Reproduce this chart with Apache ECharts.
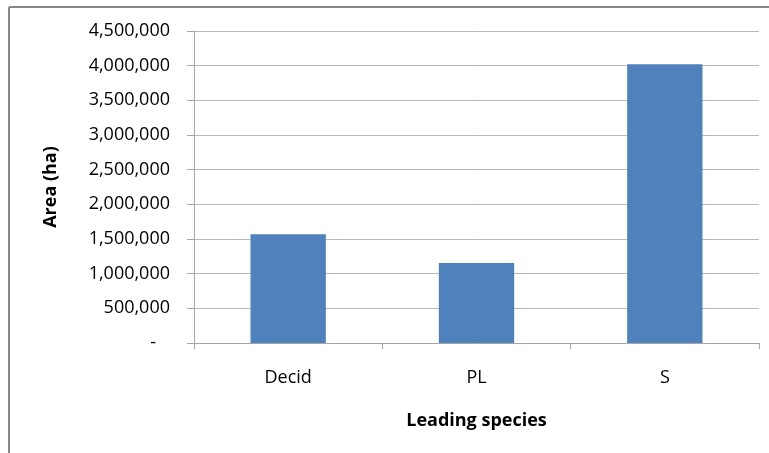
<!DOCTYPE html>
<html>
<head>
<meta charset="utf-8">
<script src="https://cdn.jsdelivr.net/npm/echarts@6/dist/echarts.min.js"></script>
<style>
html,body{margin:0;padding:0;background:#fff;}
#chart{width:769px;height:453px;}
</style>
</head>
<body>
<div id="chart"></div>
<script>
var categories = ['Decid', 'PL', 'S'];
var areaValues = [1570000, 1155000, 4020000];
var yTicks = [0, 500000, 1000000, 1500000, 2000000, 2500000, 3000000, 3500000, 4000000, 4500000];
var xTitle = 'Leading species';
var yTitle = 'Area (ha)';

var chart = echarts.init(document.getElementById('chart'), null, {renderer: 'canvas'});
var font = '"Open Sans", "Noto Sans", sans-serif';
function fmt(v) {
  if (v === 0) return '-   ';
  return String(Math.round(v)).replace(/\B(?=(\d{3})+(?!\d))/g, ',');
}
chart.setOption({
  animation: false,
  backgroundColor: '#ffffff',
  graphic: [
    {type: 'line', shape: {x1: 9, y1: 7, x2: 9, y2: 460}, style: {stroke: '#878787', lineWidth: 2}},
    {type: 'line', shape: {x1: 9, y1: 7, x2: 775, y2: 7}, style: {stroke: '#878787', lineWidth: 2}}
  ],
  grid: {left: 194, top: 31, right: 10, bottom: 110, containLabel: false},
  xAxis: {
    type: 'category',
    data: categories,
    name: xTitle,
    nameLocation: 'middle',
    nameGap: 69,
    nameTextStyle: {fontFamily: font, fontSize: 18, fontWeight: 'bold', color: '#000'},
    axisLine: {show: true, lineStyle: {color: '#a6a6a6', width: 1}},
    axisTick: {show: true, length: 6, alignWithLabel: false, lineStyle: {color: '#a6a6a6'}},
    axisLabel: {fontFamily: font, fontSize: 18, color: '#000', margin: 26}
  },
  yAxis: {
    type: 'value',
    min: yTicks[0],
    max: yTicks[yTicks.length - 1],
    interval: yTicks[1] - yTicks[0],
    name: yTitle,
    nameLocation: 'middle',
    nameGap: 134,
    nameRotate: 90,
    nameTextStyle: {fontFamily: font, fontSize: 18, fontWeight: 'bold', color: '#000'},
    axisLine: {show: true, lineStyle: {color: '#a6a6a6', width: 1}},
    axisTick: {show: true, length: 7, lineStyle: {color: '#a6a6a6'}},
    splitLine: {show: true, lineStyle: {color: '#b8b8b8', width: 1}},
    axisLabel: {fontFamily: font, fontSize: 18, color: '#000', margin: 24, formatter: fmt}
  },
  series: [{
    type: 'bar',
    data: areaValues,
    barWidth: '40%',
    itemStyle: {color: '#4f81bd'}
  }]
});
</script>
</body>
</html>
